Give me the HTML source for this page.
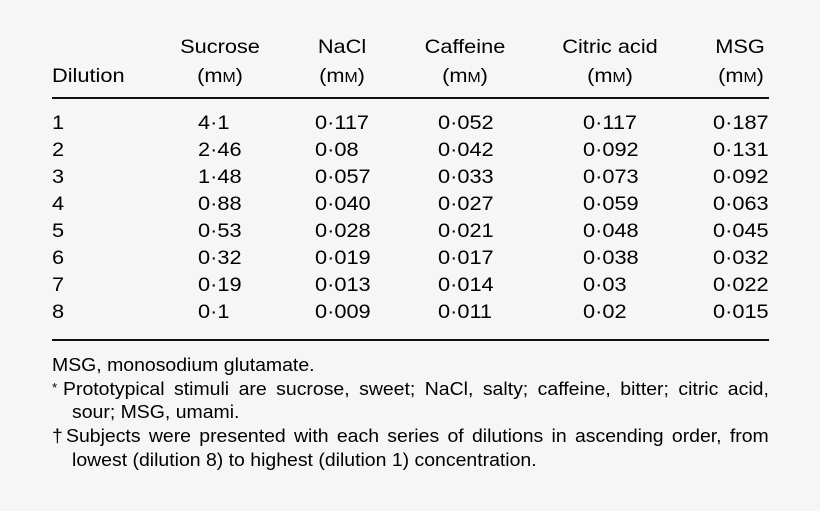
<!DOCTYPE html>
<html>
<head>
<meta charset="utf-8">
<style>
  html,body{margin:0;padding:0;}
  body{width:820px;height:511px;background:#f6f6f6;position:relative;overflow:hidden;
       font-family:"Liberation Sans",Arial,Helvetica,sans-serif;color:#000;}
  .t{position:absolute;font-size:19.8px;line-height:19.8px;white-space:nowrap;
     transform:scaleX(1.1);transform-origin:0 0;}
  .h{position:absolute;font-size:19.8px;line-height:19.8px;white-space:nowrap;
     width:160px;margin-left:-80px;text-align:center;transform:scaleX(1.1);transform-origin:50% 0;}
  .sc{font-size:14.4px;}
  .rule{position:absolute;left:52px;width:717px;height:2px;background:#111;}
  .f{position:absolute;font-size:18.8px;line-height:18.8px;white-space:nowrap;
     transform:scaleX(1.035);transform-origin:0 0;}
  .j{white-space:normal;text-align:justify;text-align-last:justify;}
</style>
</head>
<body>
  <!-- header -->
  <div class="h" style="left:220px;top:38.2px;">Sucrose</div>
  <div class="h" style="left:342px;top:38.2px;">NaCl</div>
  <div class="h" style="left:465px;top:38.2px;">Caffeine</div>
  <div class="h" style="left:610px;top:38.2px;">Citric acid</div>
  <div class="h" style="left:740px;top:38.2px;">MSG</div>

  <div class="t" style="left:52px;top:66.5px;">Dilution</div>
  <div class="h" style="left:220px;top:66.5px;">(m<span class="sc">M</span>)</div>
  <div class="h" style="left:342px;top:66.5px;">(m<span class="sc">M</span>)</div>
  <div class="h" style="left:465px;top:66.5px;">(m<span class="sc">M</span>)</div>
  <div class="h" style="left:610px;top:66.5px;">(m<span class="sc">M</span>)</div>
  <div class="h" style="left:740.5px;top:66.5px;">(m<span class="sc">M</span>)</div>

  <div class="rule" style="top:97px;"></div>

  <!-- rows -->
  <div class="t" style="left:52px;top:114px;">1</div>
  <div class="t" style="left:198px;top:114px;">4·1</div>
  <div class="t" style="left:315px;top:114px;">0·117</div>
  <div class="t" style="left:438px;top:114px;">0·052</div>
  <div class="t" style="left:583px;top:114px;">0·117</div>
  <div class="t" style="left:713px;top:114px;">0·187</div>

  <div class="t" style="left:52px;top:141px;">2</div>
  <div class="t" style="left:198px;top:141px;">2·46</div>
  <div class="t" style="left:315px;top:141px;">0·08</div>
  <div class="t" style="left:438px;top:141px;">0·042</div>
  <div class="t" style="left:583px;top:141px;">0·092</div>
  <div class="t" style="left:713px;top:141px;">0·131</div>

  <div class="t" style="left:52px;top:168.1px;">3</div>
  <div class="t" style="left:198px;top:168.1px;">1·48</div>
  <div class="t" style="left:315px;top:168.1px;">0·057</div>
  <div class="t" style="left:438px;top:168.1px;">0·033</div>
  <div class="t" style="left:583px;top:168.1px;">0·073</div>
  <div class="t" style="left:713px;top:168.1px;">0·092</div>

  <div class="t" style="left:52px;top:195.1px;">4</div>
  <div class="t" style="left:198px;top:195.1px;">0·88</div>
  <div class="t" style="left:315px;top:195.1px;">0·040</div>
  <div class="t" style="left:438px;top:195.1px;">0·027</div>
  <div class="t" style="left:583px;top:195.1px;">0·059</div>
  <div class="t" style="left:713px;top:195.1px;">0·063</div>

  <div class="t" style="left:52px;top:222.1px;">5</div>
  <div class="t" style="left:198px;top:222.1px;">0·53</div>
  <div class="t" style="left:315px;top:222.1px;">0·028</div>
  <div class="t" style="left:438px;top:222.1px;">0·021</div>
  <div class="t" style="left:583px;top:222.1px;">0·048</div>
  <div class="t" style="left:713px;top:222.1px;">0·045</div>

  <div class="t" style="left:52px;top:249.2px;">6</div>
  <div class="t" style="left:198px;top:249.2px;">0·32</div>
  <div class="t" style="left:315px;top:249.2px;">0·019</div>
  <div class="t" style="left:438px;top:249.2px;">0·017</div>
  <div class="t" style="left:583px;top:249.2px;">0·038</div>
  <div class="t" style="left:713px;top:249.2px;">0·032</div>

  <div class="t" style="left:52px;top:276.2px;">7</div>
  <div class="t" style="left:198px;top:276.2px;">0·19</div>
  <div class="t" style="left:315px;top:276.2px;">0·013</div>
  <div class="t" style="left:438px;top:276.2px;">0·014</div>
  <div class="t" style="left:583px;top:276.2px;">0·03</div>
  <div class="t" style="left:713px;top:276.2px;">0·022</div>

  <div class="t" style="left:52px;top:303.2px;">8</div>
  <div class="t" style="left:198px;top:303.2px;">0·1</div>
  <div class="t" style="left:315px;top:303.2px;">0·009</div>
  <div class="t" style="left:438px;top:303.2px;">0·011</div>
  <div class="t" style="left:583px;top:303.2px;">0·02</div>
  <div class="t" style="left:713px;top:303.2px;">0·015</div>

  <div class="rule" style="top:338.5px;"></div>

  <!-- footnotes -->
  <div class="f" style="left:52px;top:355.8px;">MSG, monosodium glutamate.</div>

  <div class="f" style="left:52px;top:380.5px;font-size:13px;line-height:13px;">*</div>
  <div class="f j" style="left:63px;top:379.8px;width:682px;">Prototypical stimuli are sucrose, sweet; NaCl, salty; caffeine, bitter; citric acid,</div>
  <div class="f" style="left:72px;top:403.4px;">sour; MSG, umami.</div>

  <div class="f" style="left:52px;top:427.1px;">†</div>
  <div class="f j" style="left:66px;top:427.1px;width:679px;">Subjects were presented with each series of dilutions in ascending order, from</div>
  <div class="f" style="left:72px;top:451.1px;">lowest (dilution 8) to highest (dilution 1) concentration.</div>
</body>
</html>
